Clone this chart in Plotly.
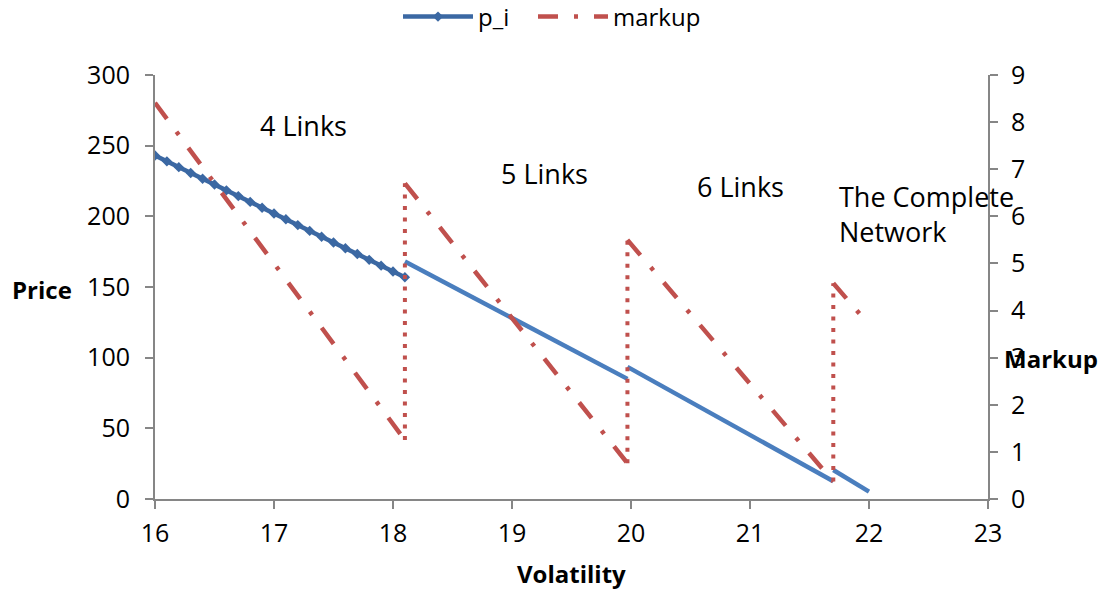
import plotly.graph_objects as go

# --- data -------------------------------------------------------------
# price p_i, 4-link regime (dense points with markers)
vol_4 = [16.0, 16.1, 16.2, 16.3, 16.4, 16.5, 16.6, 16.7, 16.8, 16.9, 17.0,
         17.1, 17.2, 17.3, 17.4, 17.5, 17.6, 17.7, 17.8, 17.9, 18.0, 18.1]
price_4 = [243.0, 238.9, 234.8, 230.7, 226.6, 222.5, 218.4, 214.3, 210.2, 206.1, 202.0,
           197.9, 193.8, 189.7, 185.6, 181.5, 177.4, 173.3, 169.2, 165.1, 161.0, 156.9]

# price p_i in the later regimes (5 links, 6 links, complete network)
vol_5 = [18.1, 19.97]
price_5 = [168.0, 85.0]
vol_6 = [19.97, 21.7]
price_6 = [93.5, 12.5]
vol_c = [21.7, 22.0]
price_c = [20.5, 5.2]

# markup per regime
mk_vol = [[16.0, 18.1], [18.1, 19.97], [19.97, 21.7], [21.7, 22.0]]
mk_val = [[8.41, 1.25], [6.70, 0.76], [5.50, 0.37], [4.58, 3.70]]

regime_labels = ["4 Links", "5 Links", "6 Links", "The Complete<br>Network"]
x_ticks = [16, 17, 18, 19, 20, 21, 22, 23]
price_ticks = [0, 50, 100, 150, 200, 250, 300]
markup_ticks = [0, 1, 2, 3, 4, 5, 6, 7, 8, 9]

# --- styling ----------------------------------------------------------
FONT = "Open Sans"
DARK_BLUE = "#3b68a3"
BLUE = "#4a7ebe"
RED = "#c0504d"
AXIS = "#868686"

W, H = 1105, 592
L, R, T, B = 155, 117, 75, 93
pw, ph = W - L - R, H - T - B

fig = go.Figure()

# later price segments (no markers, lighter blue), separated by gaps
px, py = [], []
for xs, ys in ((vol_5, price_5), (vol_6, price_6), (vol_c, price_c)):
    px += xs + [None]
    py += ys + [None]
fig.add_trace(go.Scatter(x=px, y=py, mode="lines", showlegend=False,
                         line=dict(color=BLUE, width=4.5), hoverinfo="skip"))

fig.add_trace(go.Scatter(x=vol_4, y=price_4, mode="lines+markers", name="p_i",
                         legend="legend",
                         line=dict(color=DARK_BLUE, width=4.5),
                         marker=dict(symbol="diamond", size=8, color=DARK_BLUE)))

# markup: dash-dot segments
mx, my = [], []
for xs, ys in zip(mk_vol, mk_val):
    mx += xs + [None]
    my += ys + [None]
fig.add_trace(go.Scatter(x=mx, y=my, mode="lines", name="markup", yaxis="y2",
                         legend="legend2",
                         line=dict(color=RED, width=4.5, dash="20px,16px,4px,16px")))

# dotted jumps between consecutive markup regimes
jx, jy = [], []
for i in range(len(mk_vol) - 1):
    jx += [mk_vol[i][-1], mk_vol[i + 1][0], None]
    jy += [mk_val[i][-1], mk_val[i + 1][0], None]
fig.add_trace(go.Scatter(x=jx, y=jy, mode="lines", showlegend=False, yaxis="y2",
                         line=dict(color=RED, width=4, dash="4px,7.5px"),
                         hoverinfo="skip"))

# regime labels
label_pos = [(17.25, 264, "center"), (19.27, 230, "center"),
             (20.92, 221, "center"), (21.73, 202, "left")]
for (lx, ly, al), txt in zip(label_pos, regime_labels):
    fig.add_annotation(x=lx, y=ly, text=txt, showarrow=False, align="left",
                       xanchor=al, yanchor="middle",
                       font=dict(family=FONT, size=27, color="black"))

# axis titles placed as free text (pixel centres converted to paper fractions)
def paper_xy(cx, cy):
    return (cx - L) / pw, (H - B - cy) / ph

for txt, (cx, cy) in (("<b>Price</b>", (42, 289)), ("<b>Markup</b>", (1051, 358)),
                      ("<b>Volatility</b>", (571, 573))):
    ax, ay = paper_xy(cx, cy)
    fig.add_annotation(x=ax, y=ay, xref="paper", yref="paper", text=txt,
                       showarrow=False, xanchor="center", yanchor="middle",
                       font=dict(family=FONT, size=24, color="black"))

legend_style = dict(orientation="h", xref="container", yref="container",
                    y=(H - 17) / H, xanchor="left", yanchor="middle",
                    font=dict(family=FONT, size=24, color="black"),
                    itemwidth=70, bgcolor="rgba(0,0,0,0)")

axis_common = dict(ticks="outside", ticklen=8, tickwidth=2, tickcolor=AXIS,
                   showline=True, linecolor=AXIS, linewidth=2, showgrid=False,
                   zeroline=False, automargin=False,
                   tickfont=dict(family=FONT, size=25))

fig.update_layout(
    width=W, height=H,
    margin=dict(l=L, r=R, t=T, b=B),
    paper_bgcolor="white", plot_bgcolor="white",
    font=dict(family=FONT, size=25, color="black"),
    showlegend=True,
    legend=dict(x=398 / W, **legend_style),
    legend2=dict(x=533 / W, **legend_style),
    xaxis=dict(range=[16, 23], tickvals=x_ticks, ticklabelstandoff=3, **axis_common),
    yaxis=dict(range=[0, 300], tickvals=price_ticks, ticklabelstandoff=10, **axis_common),
    yaxis2=dict(range=[0, 9], tickvals=markup_ticks, overlaying="y", side="right",
                ticklabelstandoff=8, **axis_common),
)

fig.write_html("out.html")
